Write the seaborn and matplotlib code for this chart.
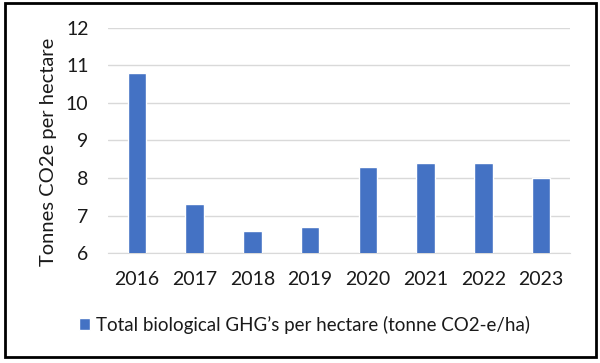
import matplotlib
matplotlib.use("Agg")
import matplotlib.pyplot as plt
import seaborn as sns
from matplotlib.patches import Rectangle

years = ['2016', '2017', '2018', '2019', '2020', '2021', '2022', '2023']
ghg_per_ha = [10.8, 7.3, 6.6, 6.7, 8.3, 8.4, 8.4, 8.0]
series_label = "Total biological GHG\u2019s per hectare (tonne CO2-e/ha)"
y_ticks = [6, 7, 8, 9, 10, 11, 12]

sns.set_style("white")
plt.rcParams['font.family'] = ['Lato', 'DejaVu Sans']

fig = plt.figure(figsize=(6, 3.63), dpi=100)
ax = fig.add_axes([0.18, 0.303, 0.77, 0.62])

sns.barplot(x=years, y=ghg_per_ha, color='#4472C4', width=0.32,
            saturation=1, label=series_label, ax=ax, zorder=3)

ax.set_ylim(6, 12)
ax.set_yticks(y_ticks)
ax.yaxis.grid(True, color='#D9D9D9', linewidth=1, zorder=0)
ax.set_axisbelow(True)
for s in ['top', 'right', 'left']:
    ax.spines[s].set_visible(False)
ax.spines['bottom'].set_color('#D9D9D9')
ax.tick_params(axis='y', length=0, labelsize=14, colors='#1a1a1a', pad=14)
ax.tick_params(axis='x', length=0, labelsize=14, colors='#1a1a1a', pad=13)
ax.set_xlabel('')
ax.set_ylabel('Tonnes CO2e per hectare', fontsize=14.5, color='#1a1a1a')
ax.yaxis.set_label_coords(-0.11, 0.45)

if ax.get_legend():
    ax.get_legend().remove()
handles, labels = ax.get_legend_handles_labels()
fig.legend(handles, labels, loc='center', bbox_to_anchor=(0.507, 0.105), frameon=False,
           fontsize=13.5, handlelength=0.6, handleheight=0.6, handletextpad=0.3,
           labelcolor='#1a1a1a')

# outer frame
fig.patches.append(Rectangle((0.008, 0.017), 0.985, 0.975, transform=fig.transFigure,
                             fill=False, edgecolor='black', linewidth=2))

fig.savefig('out.png', dpi=100)
